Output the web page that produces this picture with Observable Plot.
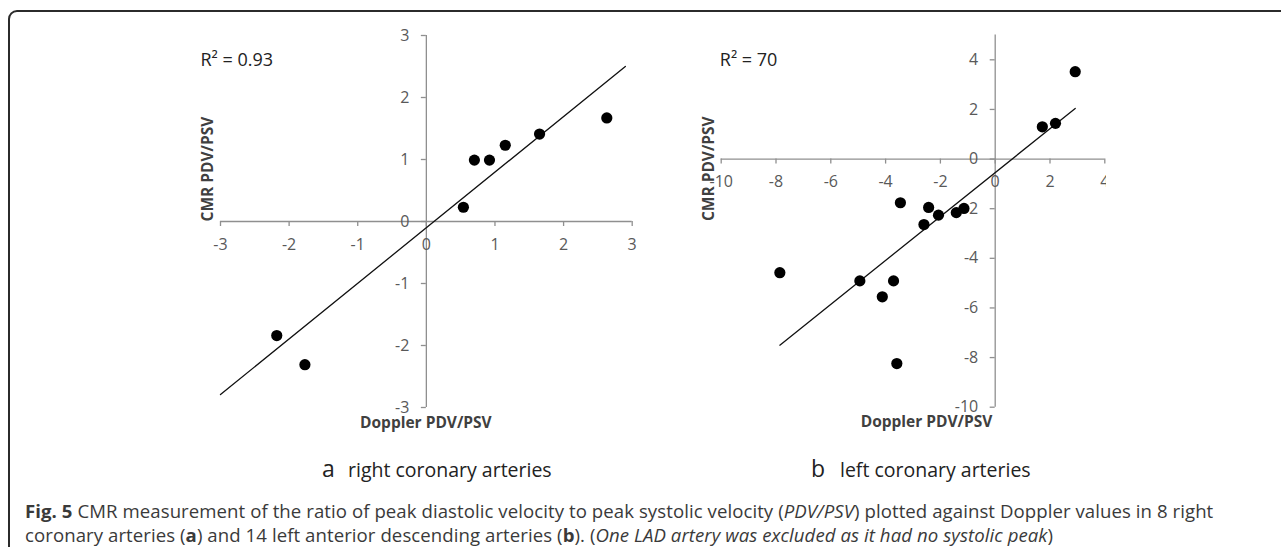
<!DOCTYPE html>
<html><head><meta charset="utf-8">
<script src="https://cdn.jsdelivr.net/npm/d3@7"></script>
<script src="https://cdn.jsdelivr.net/npm/@observablehq/plot@0.6"></script>
<style>
body{margin:0;background:#fff;}
#wrap{position:relative;width:1281px;height:547px;overflow:hidden;font-family:"Open Sans",sans-serif;}
.abs{position:absolute;white-space:nowrap;line-height:1;}
#frame{position:absolute;left:8px;top:10px;width:1400px;height:700px;border:2px solid #2b2b2b;border-radius:9px;}
.sub{color:#222;}
.cap{color:#3a3a3a;font-size:18.6px;}
</style></head><body>
<div id="wrap">
  <div id="frame"></div>
  <div id="panelA" class="abs" style="left:190px;top:20px"></div>
  <div id="panelB" class="abs" style="left:690px;top:20px"></div>
  <div class="abs sub" style="left:322px;top:456.5px;font-size:23px">a</div>
  <div class="abs sub" style="left:348px;top:459.7px;font-size:19.5px">right coronary arteries</div>
  <div class="abs sub" style="left:811px;top:456.5px;font-size:23px">b</div>
  <div class="abs sub" style="left:840px;top:459.7px;font-size:19.5px">left coronary arteries</div>
  <div class="abs cap" style="left:25px;top:501.8px;letter-spacing:0.07px"><b>Fig. 5</b> CMR measurement of the ratio of peak diastolic velocity to peak systolic velocity (<i>PDV/PSV</i>) plotted against Doppler values in 8 right</div>
  <div class="abs cap" style="left:25px;top:525.8px;letter-spacing:0.07px">coronary arteries (<b>a</b>) and 14 left anterior descending arteries (<b>b</b>). (<i>One LAD artery was excluded as it had no systolic peak</i>)</div>
</div>
<script>
// ---- Panel a: right coronary arteries ----
const rcaDoppler = [-2.18, -1.77, 0.54, 0.70, 0.92, 1.15, 1.65, 2.63];
const rcaCMR     = [-1.84, -2.31, 0.23, 0.99, 0.99, 1.23, 1.41, 1.67];
const rcaTrendX  = [-3.0, 2.9];
const rcaTrendY  = [-2.79, 2.50];
const rcaXTicks  = [-3, -2, -1, 0, 1, 2, 3];
const rcaXTickLabels = ["-3", "-2", "-1", "0", "1", "2", "3"];
const rcaYTicks  = [-3, -2, -1, 0, 1, 2, 3];
const rcaYTickLabels = ["-3", "-2", "-1", "0", "1", "2", "3"];
const rcaR2 = "R\u00B2 = 0.93";

// ---- Panel b: left coronary arteries ----
const ladDoppler = [2.92, 1.72, 2.20, -3.46, -2.43, -2.07, -2.60, -1.42, -1.14, -7.86, -4.94, -3.71, -4.12, -3.59];
const ladCMR     = [3.52, 1.30, 1.44, -1.76, -1.95, -2.26, -2.64, -2.16, -1.99, -4.58, -4.91, -4.91, -5.55, -8.24];
const ladTrendX  = [-7.86, 2.92];
const ladTrendY  = [-7.50, 2.04];
const ladXTicks  = [-10, -8, -6, -4, -2, 0, 2, 4];
const ladXTickLabels = ["-10", "-8", "-6", "-4", "-2", "0", "2", "4"];
const ladYTicks  = [-10, -8, -6, -4, -2, 0, 2, 4];
const ladYTickLabels = ["-10", "-8", "-6", "-4", "-2", "0", "2", "4"];
const ladR2 = "R\u00B2 = 70";

const xTitle = "Doppler PDV/PSV";
const yTitle = "CMR PDV/PSV";

function panel(cfg) {
  const pts = cfg.xs.map((x, i) => ({x, y: cfg.ys[i]}));
  const trend = cfg.tx.map((x, i) => ({x, y: cfg.ty[i]}));
  const xt = cfg.xTicks.map((v, i) => ({v, label: cfg.xLabels[i]}));
  const yt = cfg.yTicks.map((v, i) => ({v, label: cfg.yLabels[i]}));
  const innerW = cfg.width - cfg.ml - cfg.mr;
  const innerH = cfg.height - cfg.mt - cfg.mb;
  const tickX = 5 * (cfg.xDomain[1] - cfg.xDomain[0]) / innerW;
  const tickY = 5 * (cfg.yDomain[1] - cfg.yDomain[0]) / innerH;
  const axisColor = "#8f8f8f";
  const labelColor = "#595959";
  return Plot.plot({
    width: cfg.width, height: cfg.height,
    marginLeft: cfg.ml, marginRight: cfg.mr, marginTop: cfg.mt, marginBottom: cfg.mb,
    style: {background: "transparent", fontFamily: "Open Sans, sans-serif", overflow: "hidden"},
    x: {domain: cfg.xDomain, axis: null},
    y: {domain: cfg.yDomain, axis: null},
    marks: [
      Plot.ruleY([0], {x1: cfg.xDomain[0], x2: cfg.xDomain[1], stroke: axisColor, strokeWidth: 1.3}),
      Plot.ruleX([0], {y1: cfg.yDomain[0], y2: cfg.yDomain[1], stroke: axisColor, strokeWidth: 1.3}),
      Plot.ruleX(xt, {x: "v", y1: 0, y2: -tickY, stroke: axisColor, strokeWidth: 1.3}),
      Plot.ruleY(yt, {y: "v", x1: 0, x2: -tickX, stroke: axisColor, strokeWidth: 1.3}),
      Plot.text(xt, {x: "v", y: 0, text: "label", dy: 23, fill: labelColor, fontSize: 16}),
      Plot.text(yt, {x: 0, y: "v", text: "label", dx: -17, textAnchor: "end", fill: labelColor, fontSize: 16}),
      Plot.line(trend, {x: "x", y: "y", stroke: "#111", strokeWidth: 1.3}),
      Plot.dot(pts, {x: "x", y: "y", r: 5.6, fill: "#000", stroke: "none"}),
      Plot.text([cfg.r2], {frameAnchor: "top-left", dx: cfg.r2dx, dy: cfg.r2dy, lineAnchor: "bottom", textAnchor: "start", fontSize: 18, fill: "#222"}),
      Plot.text([yTitle], {frameAnchor: "left", dx: cfg.ytdx, rotate: -90, fontSize: 15.5, fontWeight: "bold", fill: "#404040"}),
      Plot.text([xTitle], {frameAnchor: "bottom", dx: cfg.xtdx, dy: 20, lineAnchor: "bottom", fontSize: 15.5, fontWeight: "bold", fill: "#404040"})
    ]
  });
}

document.getElementById("panelA").appendChild(panel({
  xs: rcaDoppler, ys: rcaCMR, tx: rcaTrendX, ty: rcaTrendY,
  xTicks: rcaXTicks, xLabels: rcaXTickLabels, yTicks: rcaYTicks, yLabels: rcaYTickLabels,
  xDomain: [-3, 3], yDomain: [-3, 3],
  width: 460, height: 420, ml: 30, mr: 18.3, mt: 15, mb: 33,
  r2: rcaR2, r2dx: -20, r2dy: 30, ytdx: -12, xtdx: -0.5
}));

document.getElementById("panelB").appendChild(panel({
  xs: ladDoppler, ys: ladCMR, tx: ladTrendX, ty: ladTrendY,
  xTicks: ladXTicks, xLabels: ladXTickLabels, yTicks: ladYTicks, yLabels: ladYTickLabels,
  xDomain: [-10, 4], yDomain: [-10, 5],
  width: 416, height: 420, ml: 30.7, mr: 1.7, mt: 14.5, mb: 33.3,
  r2: ladR2, r2dx: -1.4, r2dy: 30.5, ytdx: -11.7, xtdx: 13.5
}));
</script>
</body></html>
